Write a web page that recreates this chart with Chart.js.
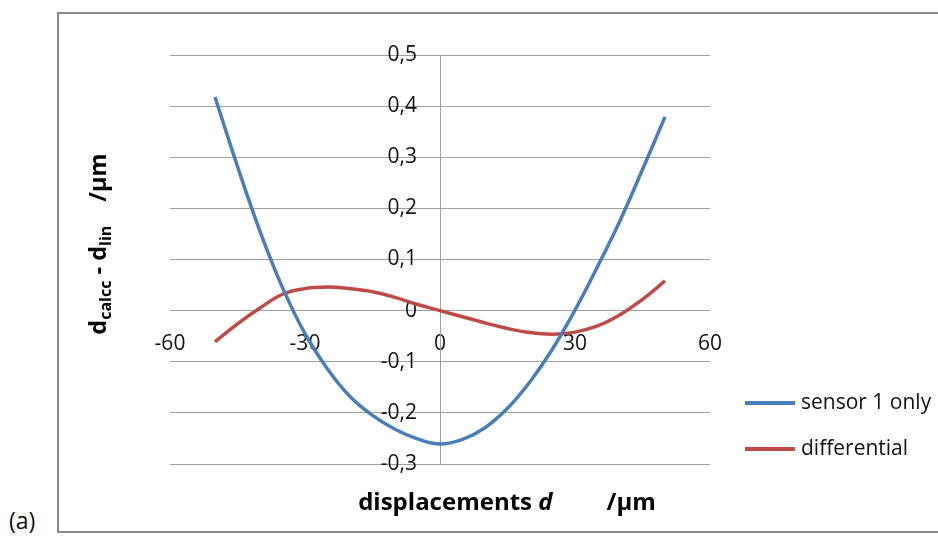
<!DOCTYPE html>
<html>
<head>
<meta charset="utf-8">
<script src="https://cdn.jsdelivr.net/npm/chart.js@4.4.0/dist/chart.umd.min.js"></script>
<style>
	body { margin: 0; background: #fff; font-family: "Open Sans", sans-serif; }
	#box { position: absolute; left: 57px; top: 12px; width: 900px; height: 517px; border: 2px solid #8a8a8a; }
	#lbl { position: absolute; left: 9px; top: 504px; font-size: 23px; color: #111; }
	#c { position: absolute; left: 0; top: 0; }
</style>
</head>
<body>
<div id="box"></div>
<div id="lbl">(a)</div>
<canvas id="c" width="938" height="536"></canvas>
<script>
// displacement d in um
const dValues = [-50,-45,-40,-35,-30,-25,-20,-15,-10,-5,0,5,10,15,20,25,30,35,40,45,50];
// sensor 1 only
const sensorOnly = [0.418,0.282,0.155,0.045,-0.045,-0.114,-0.168,-0.205,-0.232,-0.251,-0.261,-0.252,-0.229,-0.191,-0.139,-0.075,0.001,0.086,0.176,0.276,0.379];
// differential
const differential = [-0.061,-0.026,0.005,0.032,0.043,0.046,0.043,0.037,0.026,0.012,0.000,-0.012,-0.024,-0.035,-0.043,-0.046,-0.042,-0.030,-0.008,0.022,0.058];
const seriesNames = ['sensor 1 only', 'differential'];
const seriesColors = ['#4a7ebb', '#be4b48'];
const xTicks = [-60, -30, 0, 30, 60];
const yTicks = [-0.3, -0.2, -0.1, 0, 0.1, 0.2, 0.3, 0.4, 0.5];

function toPoints(ys){
	let out = [];
	for(var i=0;i<dValues.length;i=i+1){
		out.push({x: dValues[i], y: ys[i]});
	}
	return out;
}

function fmtComma(v){
	if(Math.abs(v) < 1e-9){ return '0'; }
	return v.toFixed(1).replace('.', ',');
}

// draw text made of pieces with different fonts, centered on 0
function drawPieces(ctx, pieces){
	let total = 0;
	for(const p of pieces){
		ctx.font = p.font;
		p.w = p.gap ? p.gap : ctx.measureText(p.t).width;
		total += p.w;
	}
	let x = -total / 2;
	for(const p of pieces){
		if(!p.gap){
			ctx.font = p.font;
			ctx.fillText(p.t, x, p.dy || 0);
		}
		x += p.w;
	}
}

const titlesPlugin = {
	id: 'titles',
	afterDraw(chart){
		const ctx = chart.ctx;
		const F = '"Open Sans", sans-serif';
		const B = 'bold 23.5px ' + F;
		const S = 'bold 16px ' + F;
		ctx.save();
		ctx.fillStyle = '#000';
		ctx.textBaseline = 'alphabetic';
		ctx.textAlign = 'left';
		// x title
		ctx.save();
		ctx.translate(507, 510);
		drawPieces(ctx, [
			{t: 'displacements ', font: 'bold 24px ' + F},
			{t: 'd', font: 'italic bold 24px ' + F},
			{gap: 54},
			{t: '/µm', font: 'bold 24px ' + F}
		]);
		ctx.restore();
		// y title
		ctx.save();
		ctx.translate(106, 244);
		ctx.rotate(-Math.PI / 2);
		drawPieces(ctx, [
			{t: 'd', font: B},
			{t: 'calcc', font: S, dy: 5},
			{t: ' - d', font: B},
			{t: 'lin', font: S, dy: 5},
			{gap: 24},
			{t: '/µm', font: B}
		]);
		ctx.restore();
		// legend
		const ds = chart.data.datasets;
		const ly = [403, 449];
		ctx.font = '21px ' + F;
		ctx.textBaseline = 'middle';
		for(var i=0;i<ds.length;i=i+1){
			ctx.strokeStyle = ds[i].borderColor;
			ctx.lineWidth = 4;
			ctx.beginPath();
			ctx.moveTo(745, ly[i]);
			ctx.lineTo(795, ly[i]);
			ctx.stroke();
			ctx.fillStyle = '#111';
			ctx.fillText(ds[i].label, 801, ly[i]);
		}
		ctx.restore();
	}
};

const tickFont = {family: '"Open Sans", sans-serif', size: 21};

new Chart(document.getElementById('c'), {
	type: 'scatter',
	data: {
		datasets: [{
			label: seriesNames[0],
			data: toPoints(sensorOnly),
			borderColor: seriesColors[0],
			backgroundColor: seriesColors[0],
			showLine: true,
			borderWidth: 3.5,
			pointRadius: 0,
			tension: 0.4
		}, {
			label: seriesNames[1],
			data: toPoints(differential),
			borderColor: seriesColors[1],
			backgroundColor: seriesColors[1],
			showLine: true,
			borderWidth: 3.5,
			pointRadius: 0,
			tension: 0.4
		}]
	},
	options: {
		responsive: false,
		animation: false,
		layout: {padding: {left: 170, right: 228, top: 55, bottom: 72}},
		plugins: {legend: {display: false}, tooltip: {enabled: false}},
		scales: {
			x: {
				type: 'linear', min: -60, max: 60,
				position: {y: 0},
				grid: {display: false, drawTicks: false},
				border: {display: false},
				afterBuildTicks: (s) => { s.ticks = xTicks.map(v => ({value: v})); },
				ticks: {font: tickFont, color: '#111', padding: 21, maxRotation: 0}
			},
			y: {
				type: 'linear', min: -0.3, max: 0.5,
				position: 'left',
				afterBuildTicks: (s) => { s.ticks = yTicks.map(v => ({value: v})); },
				grid: {color: '#a0a0a0', lineWidth: 1, drawTicks: false},
				border: {display: false},
				ticks: {display: false}
			},
			yl: {
				type: 'linear', min: -0.3, max: 0.5,
				position: {x: -5.1},
				afterBuildTicks: (s) => { s.ticks = yTicks.map(v => ({value: v})); },
				grid: {display: false, drawTicks: false},
				border: {display: false},
				ticks: {font: tickFont, color: '#111', padding: 0, callback: fmtComma}
			},
			yaxis: {
				type: 'linear', min: -0.3, max: 0.5,
				position: {x: 0},
				grid: {display: false, drawTicks: false},
				border: {display: true, color: '#a0a0a0', width: 1},
				ticks: {display: false}
			}
		}
	},
	plugins: [titlesPlugin]
});
</script>
</body>
</html>
